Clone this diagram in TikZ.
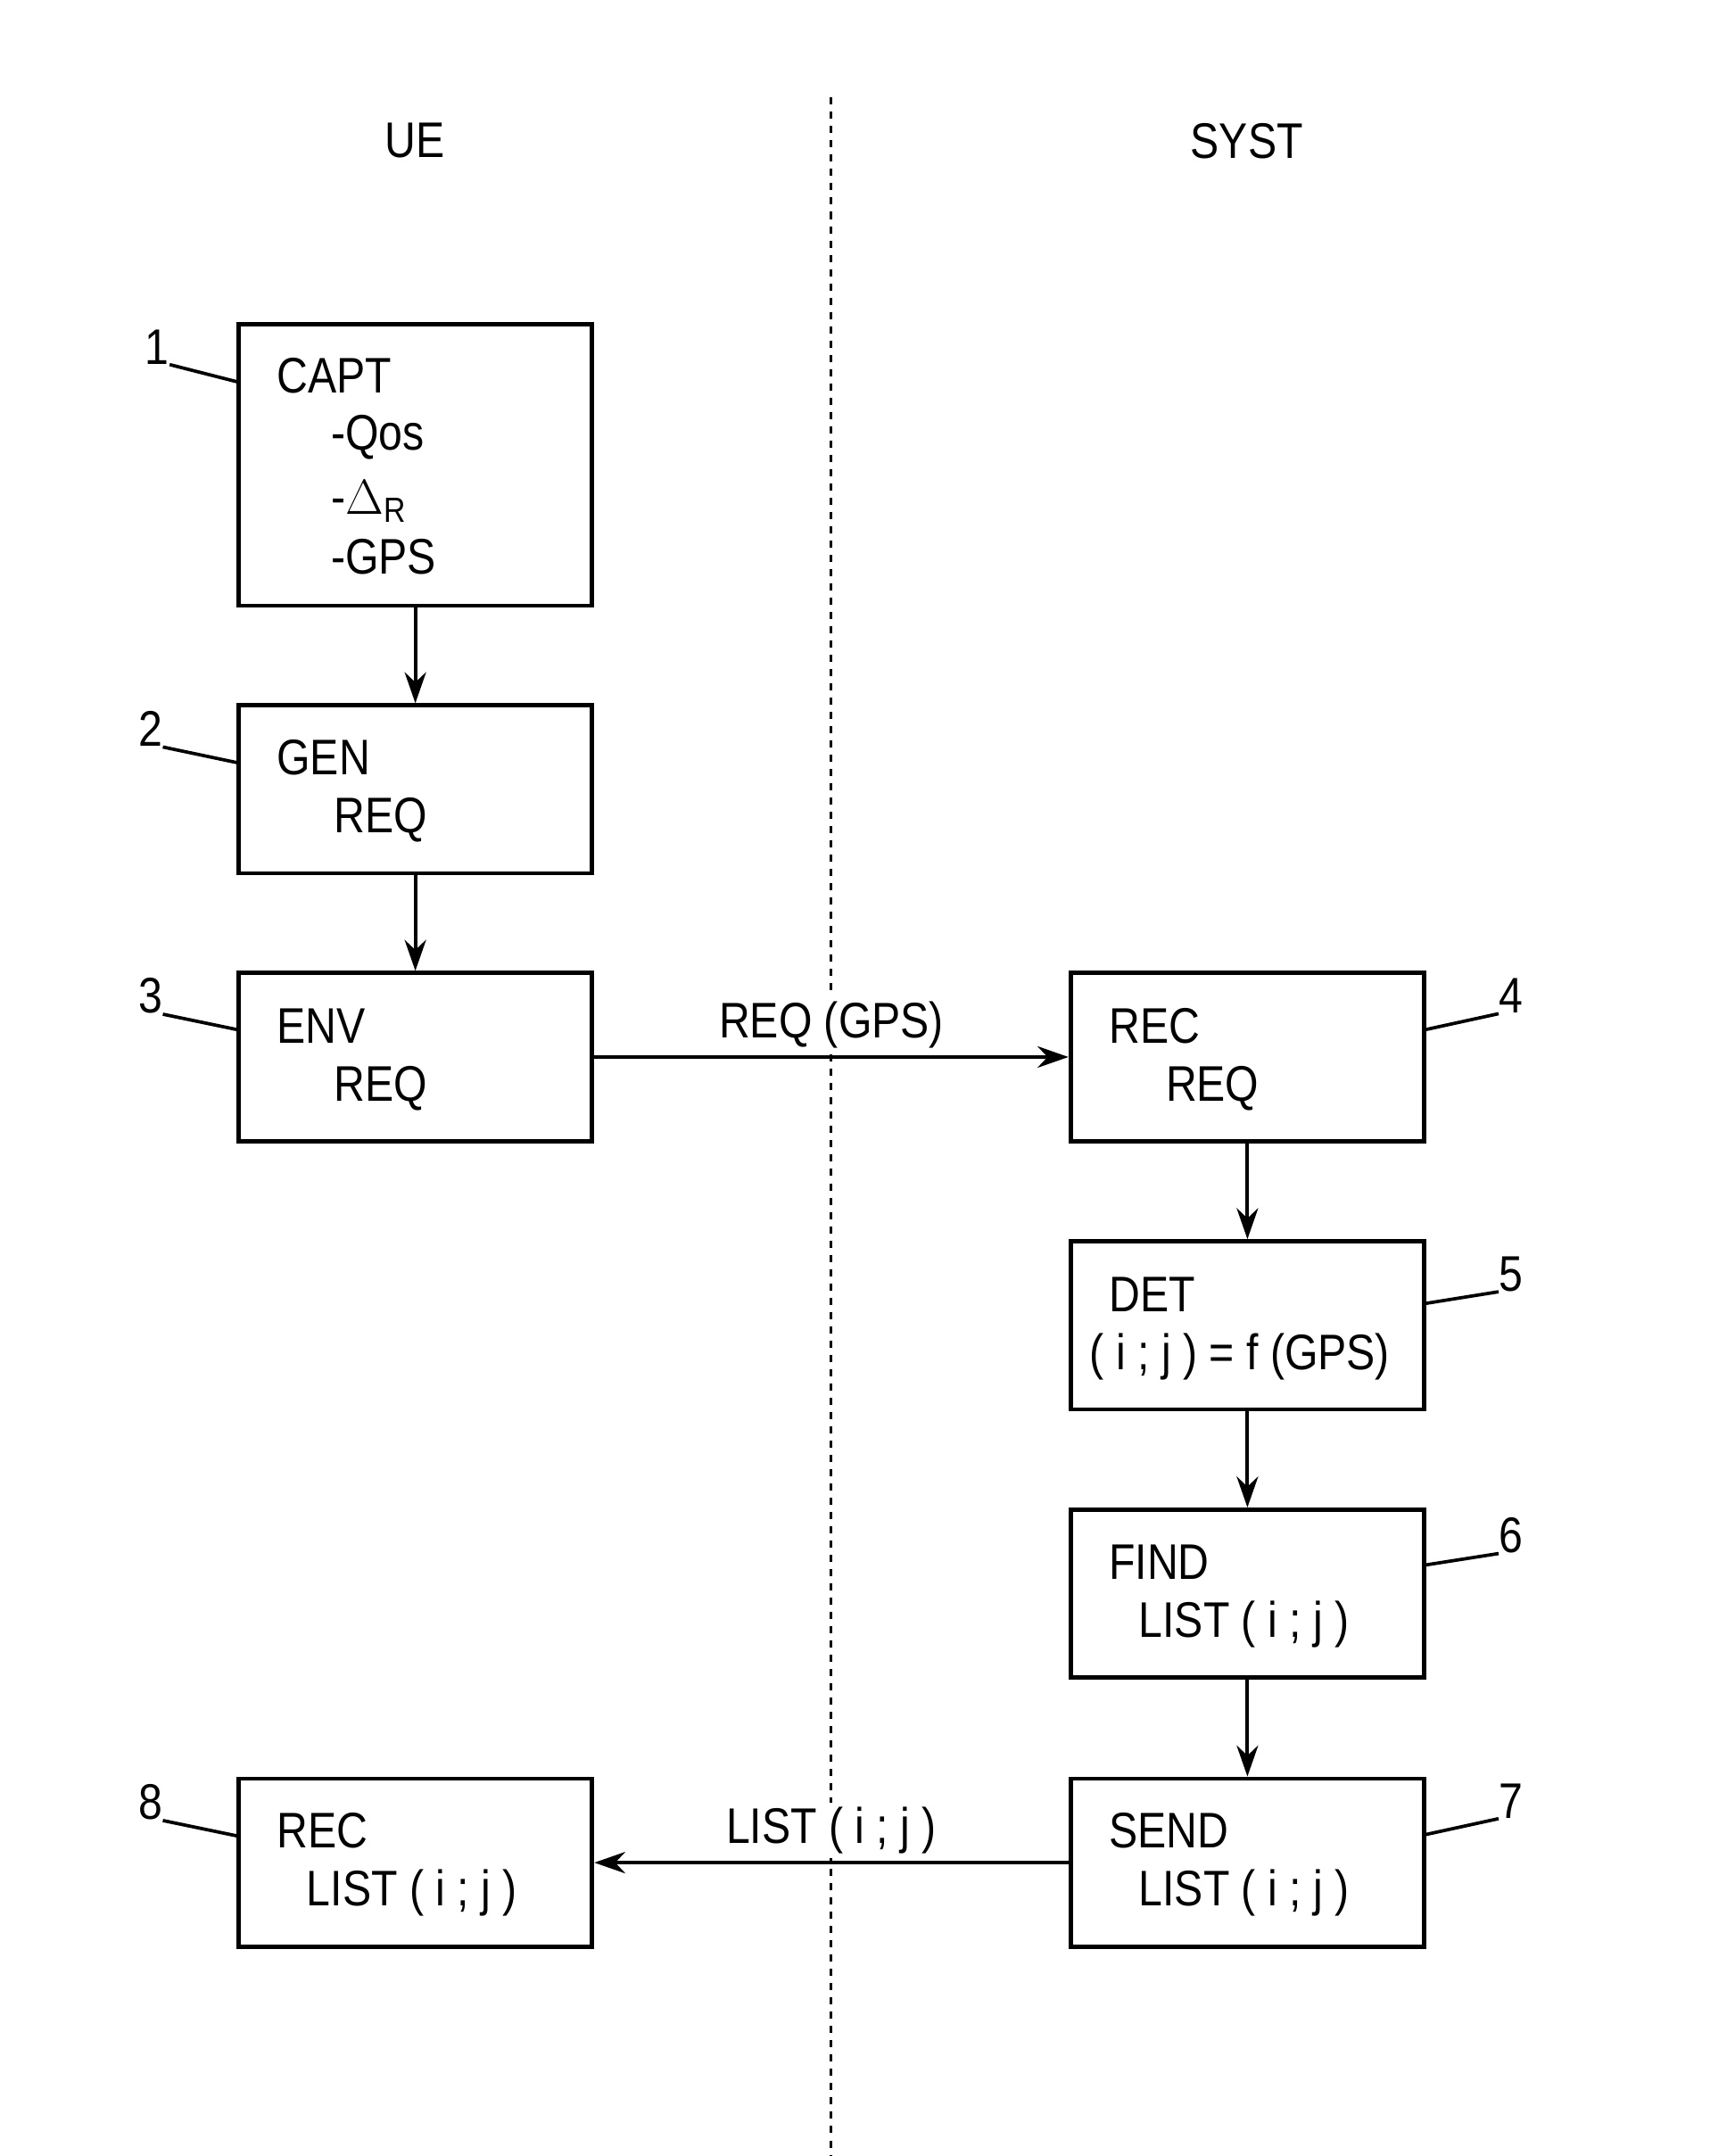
\documentclass[tikz,border=0pt]{standalone}
\usepackage{fontspec}
\setmainfont{Liberation Sans}[FakeStretch=0.86]
\usetikzlibrary{arrows.meta}
\begin{document}
\begin{tikzpicture}[x=0.02cm,y=-0.02cm,
  box/.style={draw,line width=1.8pt,minimum width=5.22cm,minimum height=2.48cm,inner sep=0pt},
  big/.style={minimum height=4.16cm},
  txt/.style={anchor=west,font=\fontsize{21}{24}\selectfont,inner sep=0pt},
  lbl/.style={font=\fontsize{21}{24}\selectfont,inner sep=0pt},
  arr/.style={line width=1.5pt,-{Stealth[length=13pt,width=9pt]}},
  lead/.style={line width=1.4pt}]
\useasboundingbox (0,0) rectangle (1280,1591);
\draw[dashed,line width=1.1pt] (613,72) -- (613,1591);
\node[lbl] (ue) at (306,104) {UE};
\node[lbl] (syst) at (920,104) {SYST};
\node[box,big] (b1) at (306.5,343) {};
\node[box] (b2) at (306.5,582.5) {};
\node[box] (b3) at (306.5,780) {};
\node[box] (b4) at (920.5,780) {};
\node[box] (b5) at (920.5,978) {};
\node[box] (b6) at (920.5,1176) {};
\node[box] (b7) at (920.5,1374.5) {};
\node[box] (b8) at (306.5,1374.5) {};
\node[txt] (t1a) at (204,277) {CAPT};
\node[txt] (t1b) at (244,323) {-Qos};
\node[txt] (t1c) at (244,370) {-$\Delta_{\mathrm{R}}$};
\node[txt] (t1d) at (244,411) {-GPS};
\node[txt] (t2a) at (204,559) {GEN};
\node[txt] (t2b) at (246,605) {REQ};
\node[txt] (t3a) at (204,757) {ENV};
\node[txt] (t3b) at (246,803) {REQ};
\node[txt] (t4a) at (818,757) {REC};
\node[txt] (t4b) at (860,803) {REQ};
\node[txt] (t5a) at (818,955) {DET};
\node[txt] (t5b) at (804,1001) {( i ; j ) = f (GPS)};
\node[txt] (t6a) at (818,1153) {FIND};
\node[txt] (t6b) at (840,1199) {LIST ( i ; j )};
\node[txt] (t7a) at (818,1351) {SEND};
\node[txt] (t7b) at (840,1397) {LIST ( i ; j )};
\node[txt] (t8a) at (204,1351) {REC};
\node[txt] (t8b) at (226,1397) {LIST ( i ; j )};
\draw[arr] (b1) -- (b2);
\draw[arr] (b2) -- (b3);
\draw[arr] (b4) -- (b5);
\draw[arr] (b5) -- (b6);
\draw[arr] (b6) -- (b7);
\draw[arr] (b3) -- node[lbl,above=1pt,fill=white,inner sep=2pt] (m1) {REQ (GPS)} (b4);
\draw[arr] (b7) -- node[lbl,above=1pt,fill=white,inner sep=2pt] (m2) {LIST ( i ; j )} (b8);
\node[lbl] (n1) at (116,256) {1};
\node[lbl] (n2) at (111,538) {2};
\node[lbl] (n3) at (111,735) {3};
\node[lbl] (n4) at (1115,735) {4};
\node[lbl] (n5) at (1115,940) {5};
\node[lbl] (n6) at (1115,1133) {6};
\node[lbl] (n7) at (1115,1329) {7};
\node[lbl] (n8) at (111,1330) {8};
\coordinate (c1) at (176,282); \draw[lead] (n1.south east) -- (c1);
\coordinate (c2) at (176,563); \draw[lead] (n2.south east) -- (c2);
\coordinate (c3) at (176,760); \draw[lead] (n3.south east) -- (c3);
\coordinate (c4) at (1051,760); \draw[lead] (n4.south west) -- (c4);
\coordinate (c5) at (1051,962); \draw[lead] (n5.south west) -- (c5);
\coordinate (c6) at (1051,1155); \draw[lead] (n6.south west) -- (c6);
\coordinate (c7) at (1051,1354); \draw[lead] (n7.south west) -- (c7);
\coordinate (c8) at (176,1355); \draw[lead] (n8.south east) -- (c8);
\end{tikzpicture}
\end{document}
